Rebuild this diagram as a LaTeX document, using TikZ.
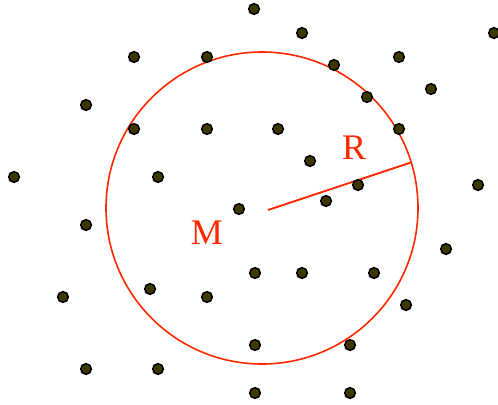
\documentclass[tikz,border=0pt]{standalone}
\usepackage{fontspec}
\setmainfont{Liberation Serif}
\definecolor{dotfill}{RGB}{60,56,0}
\definecolor{redline}{RGB}{255,40,0}
\begin{document}
\begin{tikzpicture}[x=0.75pt,y=-0.75pt,
  pt/.style={circle,draw=black,fill=dotfill,line width=1.1pt,inner sep=0pt,minimum size=8pt},
  lbl/.style={text=redline,font=\fontsize{27}{30}\selectfont,inner sep=0pt},
  bigcirc/.style={circle,draw=redline,line width=1.2pt,inner sep=0pt,minimum size=234pt}]
\useasboundingbox (0,0) rectangle (498,404);
\node[bigcirc] (circ) at (262,208) {};
\coordinate (m) at (268,210);
\draw[redline,line width=1.4pt] (m) -- (circ.17);
\node[lbl] (R) at (354,148) {R};
\node[lbl] (M) at (207,233) {M};
\foreach \n/\x/\y in {a/254/9, b/302/33, c/494/33, d/134/57, e/207/57, f/334/65,
  g/399/57, h/431/89, i/367/97, j/86/105, k/134/129, l/207/129, mm/278/129,
  n/399/129, o/310/161, p/14/177, q/158/177, r/358/185, s/478/185, t/326/201,
  u/239/209, v/86/225, w/446/249, x/255/273, y/302/273, z/374/273, aa/63/297,
  ab/150/289, ac/207/297, ad/406/305, ae/255/345, af/350/345, ag/86/369,
  ah/158/369, ai/255/393, aj/350/393}
  \node[pt] (\n) at (\x,\y) {};
\end{tikzpicture}
\end{document}
